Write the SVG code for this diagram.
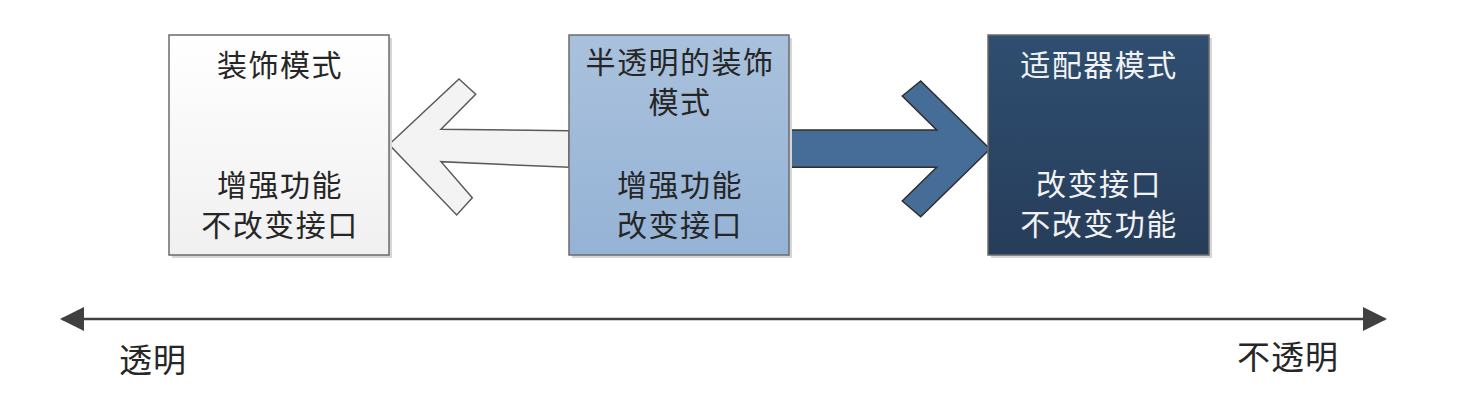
<svg xmlns="http://www.w3.org/2000/svg" width="1464" height="410" viewBox="0 0 1464 410">
<style>
.t{font-family:"Noto Sans CJK SC","Liberation Sans",sans-serif;font-size:30px;letter-spacing:1.5px;text-anchor:middle}
.dk{fill:#262626}
.lt{fill:#f2f2f2}
.box{stroke:#6b6b6b;stroke-width:1.5}
.sh{fill:#d6d6d6}
.axis{stroke:#404040;stroke-width:2.5;fill:none}
</style>
<defs>
<linearGradient id="g1" x1="0" y1="0" x2="0" y2="1"><stop offset="0" stop-color="#ffffff"/><stop offset="1" stop-color="#f0f0f0"/></linearGradient>
<linearGradient id="g2" x1="0" y1="0" x2="0" y2="1"><stop offset="0" stop-color="#a9c1dc"/><stop offset="1" stop-color="#95b3d6"/></linearGradient>
<linearGradient id="g3" x1="0" y1="0" x2="0" y2="1"><stop offset="0" stop-color="#2f4e70"/><stop offset="1" stop-color="#273d5a"/></linearGradient>
<marker id="ah" viewBox="0 0 24 24" refX="22" refY="12" markerWidth="24" markerHeight="24" markerUnits="userSpaceOnUse" orient="auto-start-reverse"><path d="M0,0 L24,12 L0,24 Z" fill="#404040"/></marker>
</defs>
<g id="connectors">
<path d="M389,144.5 L459,79 L475.7,94.3 L441,129.3 L569,130.7 L569,167.3 L441,161.7 L472.3,197.7 L456.7,215 Z" fill="#f3f3f3" stroke="#5a5a5a" stroke-width="1.5"/>
<path d="M789,130 L936.7,130 L902.3,96 L920.7,81 L990,149 L920.7,216.7 L902.3,201 L936.7,167.3 L789,167.3 Z" fill="#466d98" stroke="#2e2e2e" stroke-width="1.5"/>
<line class="axis" x1="62" y1="319" x2="1385" y2="319" marker-start="url(#ah)" marker-end="url(#ah)"/>
</g>
<g id="node-decorator">
<rect class="sh" x="172" y="38" width="220" height="220"/>
<rect class="box" x="169" y="35" width="220" height="220" fill="url(#g1)"/>
<text class="t dk" x="280" y="76">装饰模式</text>
<text class="t dk" x="280" y="196">增强功能</text>
<text class="t dk" x="280" y="236">不改变接口</text>
</g>
<g id="node-semi">
<rect class="sh" x="572" y="38" width="220" height="220"/>
<rect class="box" x="569" y="35" width="220" height="220" fill="url(#g2)"/>
<text class="t dk" x="680" y="73">半透明的装饰</text>
<text class="t dk" x="680" y="113">模式</text>
<text class="t dk" x="680" y="196">增强功能</text>
<text class="t dk" x="680" y="236">改变接口</text>
</g>
<g id="node-adapter">
<rect class="sh" x="991" y="38" width="221" height="220"/>
<rect class="box" x="988" y="35" width="221" height="220" fill="url(#g3)"/>
<text class="t lt" x="1099" y="76">适配器模式</text>
<text class="t lt" x="1099" y="195">改变接口</text>
<text class="t lt" x="1099" y="235">不改变功能</text>
</g>
<g id="labels">
<text class="t dk" x="153" y="372" style="font-size:33px;letter-spacing:1px">透明</text>
<text class="t dk" x="1288" y="369" style="font-size:33px;letter-spacing:1px">不透明</text>
</g>
</svg>
